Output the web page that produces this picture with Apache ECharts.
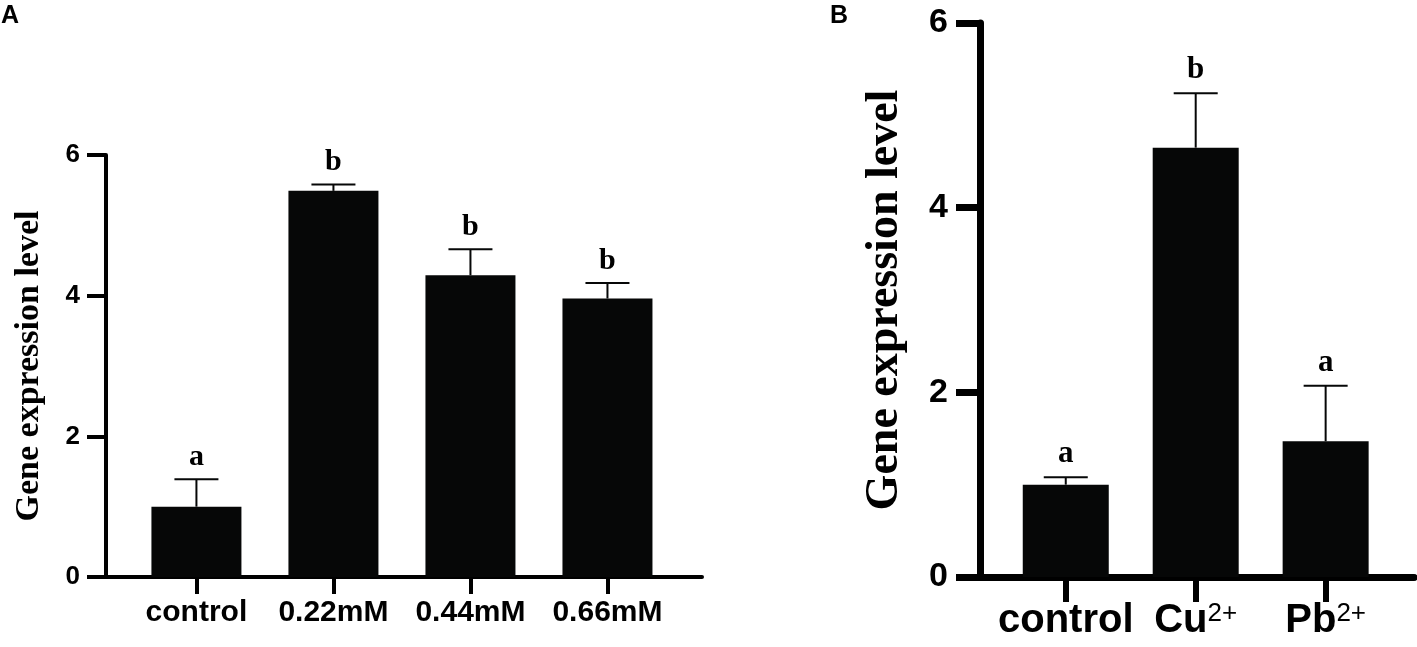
<!DOCTYPE html>
<html>
<head>
<meta charset="UTF-8">
<title>Gene expression level</title>
<script src="https://cdn.jsdelivr.net/npm/echarts@6/dist/echarts.min.js"></script>
<style>
  html, body { margin: 0; padding: 0; background: #fff; }
  #main { width: 1417px; height: 647px; }
</style>
</head>
<body>
<div id="main"></div>
<script type="text/javascript">
    // panel A: concentrations
    var catsA = ['control', '0.22mM', '0.44mM', '0.66mM'];
    var meanA = [1.0, 5.49, 4.29, 3.96];
    var upperA = [1.39, 5.58, 4.66, 4.18];
    var lettersA = ['a', 'b', 'b', 'b'];

    // panel B: metal ions
    var catsB = ['control', 'Cu', 'Pb'];
    var chargeB = ['', '2+', '2+'];
    var meanB = [1.0, 4.65, 1.47];
    var upperB = [1.08, 5.24, 2.07];
    var lettersB = ['a', 'b', 'a'];

    var yTicks = [0, 2, 4, 6];

    var barColor = '#060707';
    var sans = '"Liberation Sans", Arial, sans-serif';
    var serif = '"Liberation Serif", "Times New Roman", serif';

    function barData(mean) {
        return mean.map(function (v, i) { return [i, v]; });
    }
    function errData(mean, upper) {
        return mean.map(function (v, i) { return [i, v, upper[i]]; });
    }

    // error bar (upper only) + significance letter
    function errRenderer(letters, capHalf, gap, fontSize) {
        return function (params, api) {
            var x = api.value(0);
            var p0 = api.coord([x, api.value(1)]);
            var p1 = api.coord([x, api.value(2)]);
            return {
                type: 'group',
                children: [
                    { type: 'line', shape: { x1: p0[0], y1: p0[1], x2: p1[0], y2: p1[1] },
                      style: { stroke: barColor, lineWidth: 2 } },
                    { type: 'line', shape: { x1: p1[0] - capHalf, y1: p1[1], x2: p1[0] + capHalf, y2: p1[1] },
                      style: { stroke: barColor, lineWidth: 2 } },
                    { type: 'text', x: p1[0], y: p1[1] - gap,
                      style: { text: letters[params.dataIndex], fill: '#000',
                               font: 'bold ' + fontSize + 'px ' + serif,
                               align: 'center', verticalAlign: 'middle' } }
                ]
            };
        };
    }

    var myChart = echarts.init(document.getElementById('main'));

    var option = {
        animation: false,
        backgroundColor: '#fff',
        graphic: [
            { type: 'text', left: 1, top: 4, style: { text: 'A', font: 'bold 25px ' + sans, fill: '#000' } },
            { type: 'text', left: 830, top: 4, style: { text: 'B', font: 'bold 25px ' + sans, fill: '#000' } }
        ],
        grid: [
            { left: 106, top: 155, width: 596, height: 422 },
            { left: 980, top: 23, width: 434, height: 554 }
        ],
        xAxis: [
            {
                gridIndex: 0, type: 'value', min: -0.66, max: 3.69,
                splitLine: { show: false },
                axisLine: { show: true, onZero: false, lineStyle: { color: '#000', width: 4 } },
                axisTick: { show: true, customValues: [0, 1, 2, 3], length: 17, lineStyle: { color: '#000', width: 4 } },
                axisLabel: {
                    customValues: [0, 1, 2, 3], margin: 21,
                    fontFamily: sans, fontWeight: 'bold', fontSize: 30, color: '#000',
                    formatter: function (v) { return catsA[Math.round(v)]; }
                }
            },
            {
                gridIndex: 1, type: 'value', min: -0.66, max: 2.68,
                splitLine: { show: false },
                axisLine: { show: true, onZero: false, lineStyle: { color: '#000', width: 7 } },
                axisTick: { show: true, customValues: [0, 1, 2], length: 25, lineStyle: { color: '#000', width: 6 } },
                axisLabel: {
                    customValues: [0, 1, 2], margin: 24,
                    formatter: function (v) {
                        var i = Math.round(v);
                        return '{n|' + catsB[i] + '}' + (chargeB[i] ? '{s|' + chargeB[i] + '}' : '');
                    },
                    rich: {
                        n: { fontFamily: sans, fontWeight: 'bold', fontSize: 40, color: '#000' },
                        s: { fontFamily: sans, fontSize: 26, color: '#000', verticalAlign: 'top' }
                    }
                }
            }
        ],
        yAxis: [
            {
                gridIndex: 0, type: 'value', min: 0, max: 6, interval: 2,
                splitLine: { show: false },
                axisLine: { show: true, onZero: false, lineStyle: { color: '#000', width: 4 } },
                axisTick: { show: true, length: 19, lineStyle: { color: '#000', width: 4 } },
                axisLabel: {
                    margin: 26, fontFamily: sans, fontWeight: 'bold', fontSize: 26, color: '#000',
                    formatter: function (v) { return yTicks.indexOf(v) >= 0 ? String(v) : ''; }
                },
                name: 'Gene expression level', nameLocation: 'middle', nameRotate: 90, nameGap: 60,
                nameTextStyle: { fontFamily: serif, fontWeight: 'bold', fontSize: 34, color: '#000' }
            },
            {
                gridIndex: 1, type: 'value', min: 0, max: 6, interval: 2,
                splitLine: { show: false },
                axisLine: { show: true, onZero: false, lineStyle: { color: '#000', width: 7 } },
                axisTick: { show: true, length: 24, lineStyle: { color: '#000', width: 7 } },
                axisLabel: {
                    margin: 32, fontFamily: sans, fontWeight: 'bold', fontSize: 34, color: '#000',
                    formatter: function (v) { return yTicks.indexOf(v) >= 0 ? String(v) : ''; }
                },
                name: 'Gene expression level', nameLocation: 'middle', nameRotate: 90, nameGap: 72,
                nameTextStyle: { fontFamily: serif, fontWeight: 'bold', fontSize: 46, color: '#000' }
            }
        ],
        series: [
            {
                type: 'bar', xAxisIndex: 0, yAxisIndex: 0, barWidth: 90,
                itemStyle: { color: barColor }, data: barData(meanA), z: 1
            },
            {
                type: 'custom', xAxisIndex: 0, yAxisIndex: 0, z: 3,
                renderItem: errRenderer(lettersA, 22, 22, 30),
                data: errData(meanA, upperA)
            },
            {
                type: 'bar', xAxisIndex: 1, yAxisIndex: 1, barWidth: 86,
                itemStyle: { color: barColor }, data: barData(meanB), z: 1
            },
            {
                type: 'custom', xAxisIndex: 1, yAxisIndex: 1, z: 3,
                renderItem: errRenderer(lettersB, 22, 23, 31),
                data: errData(meanB, upperB)
            }
        ]
    };

    myChart.setOption(option);
</script>
</body>
</html>
